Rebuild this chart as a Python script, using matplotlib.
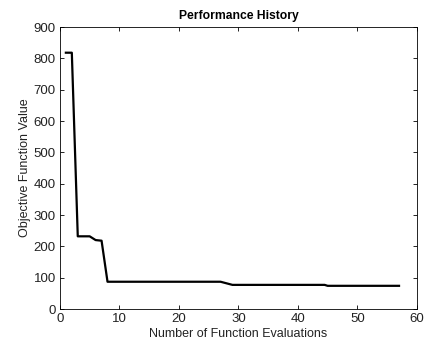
import matplotlib
matplotlib.use("Agg")
import matplotlib.pyplot as plt

# breakpoints of the objective history
evals = [1, 2, 3, 5, 6, 7, 8, 27, 29, 44.5, 45, 57]
objective = [818, 818, 232, 232, 220, 218, 87, 87, 77, 77, 74, 74]

xticks = [0, 10, 20, 30, 40, 50, 60]
yticks = [0, 100, 200, 300, 400, 500, 600, 700, 800, 900]

plt.rcParams["font.family"] = ["Liberation Sans", "DejaVu Sans"]
txt = "#222222"

fig = plt.figure(figsize=(4.28, 3.49), dpi=100)
ax = fig.add_axes((0.140, 0.1146, 0.834, 0.808))

ax.plot(evals, objective, color="black", linewidth=1.6)

ax.set_xlim(0, 60)
ax.set_ylim(0, 900)
ax.set_xticks(xticks)
ax.set_yticks(yticks)
ax.tick_params(direction="in", top=True, right=True, labelsize=9.5, length=3,
               width=0.6, pad=3, labelcolor=txt)
for s in ax.spines.values():
    s.set_linewidth(0.6)

ax.set_xlabel("Number of Function Evaluations", fontsize=9, labelpad=2, color=txt)
ax.set_ylabel("Objective Function Value", fontsize=9, labelpad=2, color=txt)
ax.set_title("Performance History", fontsize=8.7, fontweight="bold", pad=6)

fig.savefig("out.png", dpi=100)
